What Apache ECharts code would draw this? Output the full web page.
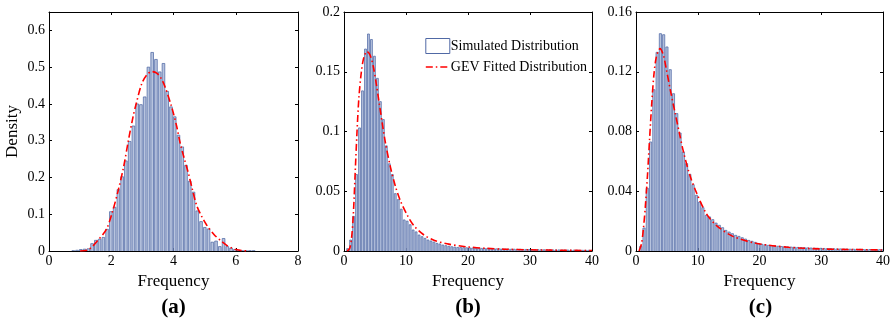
<!DOCTYPE html>
<html>
<head>
<meta charset="utf-8">
<script src="https://cdn.jsdelivr.net/npm/echarts@6/dist/echarts.min.js"></script>
<style>
  html, body { margin: 0; padding: 0; background: #fff; }
  #chart { width: 893px; height: 324px; }
</style>
</head>
<body>
<div id="chart"></div>
<script>
// histogram bins (left edge of first bin, bin width) and densities per panel
const binStartA = 0.725;
const binWidthA = 0.1207;
const densityA = [0.001, 0.002, 0.004, 0.005, 0.006, 0.02, 0.029, 0.032, 0.037, 0.059,
  0.107, 0.119, 0.167, 0.202, 0.245, 0.298, 0.34, 0.40, 0.398, 0.419,
  0.50, 0.54, 0.521, 0.487, 0.51, 0.434, 0.392, 0.365, 0.315, 0.283,
  0.233, 0.19, 0.16, 0.109, 0.08, 0.064, 0.06, 0.024, 0.027, 0.012,
  0.034, 0.012, 0.008, 0.004, 0.002, 0.001, 0.001, 0.001, 0.001];

const binStartB = 0.37;
const binWidthB = 0.48;
const densityB = [0.002, 0.0092, 0.029, 0.064, 0.103, 0.134, 0.169, 0.1816, 0.177, 0.163,
  0.1445, 0.125, 0.11, 0.088, 0.073, 0.064, 0.048, 0.043, 0.035, 0.026,
  0.025, 0.022, 0.0176, 0.016, 0.0134, 0.012, 0.0106, 0.0092, 0.0084, 0.0075,
  0.0064, 0.0059, 0.005, 0.0045, 0.004, 0.0036, 0.0033, 0.0030, 0.0029, 0.0028,
  0.0027, 0.0026, 0.0025, 0.0024, 0.0023, 0.0022, 0.0021, 0.0021, 0.002, 0.0019,
  0.0018, 0.0018, 0.0017, 0.0016, 0.0016, 0.0015, 0.0015, 0.0014, 0.0014, 0.0013,
  0.0013, 0.0012, 0.0012, 0.0011, 0.0011, 0.0011, 0.001, 0.001, 0.001, 0.0009,
  0.0009, 0.0009, 0.0008, 0.0008, 0.0008, 0.0007, 0.0007, 0.0007, 0.0006, 0.0006,
  0.0006, 0.0006, 0.0005];

const binStartC = 0.53;
const binWidthC = 0.53;
const densityC = [0.0031, 0.0154, 0.042, 0.073, 0.108, 0.133, 0.1455, 0.1448, 0.1366, 0.1214,
  0.1053, 0.092, 0.079, 0.0663, 0.0585, 0.0513, 0.0444, 0.0373, 0.0328, 0.029,
  0.0239, 0.0228, 0.021, 0.0187, 0.0172, 0.0156, 0.0138, 0.0127, 0.0116, 0.0105,
  0.0098, 0.0089, 0.008, 0.0071, 0.0065, 0.0058, 0.0049, 0.0045, 0.0042, 0.0038,
  0.0036, 0.0034, 0.0032, 0.003, 0.0029, 0.0027, 0.0026, 0.0025, 0.0024, 0.0023,
  0.0022, 0.0021, 0.002, 0.0019, 0.0018, 0.0018, 0.0017, 0.0016, 0.0016, 0.0015,
  0.0014, 0.0014, 0.0013, 0.0013, 0.0012, 0.0012, 0.0011, 0.0011, 0.001, 0.001,
  0.001, 0.0009, 0.0009, 0.0009, 0.0008];

// GEV fitted density, [frequency, density]
const gevA = [[1.0, 0], [1.26, 0.003], [1.58, 0.03], [1.85, 0.06], [2.05, 0.11], [2.23, 0.167],
  [2.4, 0.23], [2.55, 0.3], [2.7, 0.365], [2.8, 0.4], [2.98, 0.455], [3.15, 0.48], [3.3, 0.488],
  [3.46, 0.484], [3.6, 0.47], [3.73, 0.446], [3.94, 0.392], [4.1, 0.34], [4.21, 0.295],
  [4.35, 0.25], [4.48, 0.211], [4.6, 0.17], [4.74, 0.125], [4.9, 0.095], [5.07, 0.07],
  [5.3, 0.045], [5.49, 0.03], [5.7, 0.016], [5.87, 0.008], [6.0, 0.004], [6.2, 0.001], [6.4, 0]];
const gevB = [[0.5, 0], [0.9, 0.002], [1.2, 0.01], [1.5, 0.03], [1.8, 0.065], [2.1, 0.1],
  [2.4, 0.128], [2.8, 0.15], [3.2, 0.162], [3.7, 0.167], [4.2, 0.164], [4.7, 0.155], [5.2, 0.14],
  [5.7, 0.123], [6.2, 0.106], [6.7, 0.09], [7.5, 0.07], [8.3, 0.054], [9.1, 0.042], [10.2, 0.03],
  [11.3, 0.021], [12.8, 0.0138], [14.5, 0.009], [16.6, 0.006], [19.8, 0.0035], [23, 0.0022],
  [26, 0.0015], [30, 0.001], [35, 0.0006], [40, 0.0004]];
const gevC = [[0.5, 0], [0.9, 0.005], [1.2, 0.015], [1.5, 0.029], [1.85, 0.05], [2.2, 0.075],
  [2.57, 0.1], [2.9, 0.118], [3.3, 0.13], [3.9, 0.1355], [4.44, 0.131], [4.9, 0.122],
  [5.5, 0.109], [6.3, 0.093], [7.0, 0.0795], [7.65, 0.067], [8.7, 0.051], [9.8, 0.039],
  [11.4, 0.025], [13.0, 0.0172], [15.7, 0.0098], [19.4, 0.0052], [24.7, 0.0025], [30, 0.0014],
  [35, 0.001], [40, 0.0007]];

const xMax = [8, 40, 40];
const xInterval = [2, 10, 10];
const yMax = [0.65, 0.2, 0.16];
const yInterval = [0.1, 0.05, 0.04];
const panelLabels = ['(a)', '(b)', '(c)'];
const legendNames = ['Simulated Distribution', 'GEV Fitted Distribution'];

const FONT = "'Liberation Serif', 'DejaVu Serif', serif";
const BAR_FILL = '#b8c4de';
const BAR_EDGE = '#5069a5';
const GEV_DASH = [7, 3, 1.5, 3];

function bins(start, width, dens) {
  return dens.map((d, i) => [start + i * width, start + (i + 1) * width, d]);
}
const histData = [
  bins(binStartA, binWidthA, densityA),
  bins(binStartB, binWidthB, densityB),
  bins(binStartC, binWidthC, densityC)
];
const gevData = [gevA, gevB, gevC];

const grids = [
  { left: 49, top: 12, width: 249, height: 239 },
  { left: 344, top: 12, width: 248, height: 239 },
  { left: 636, top: 12, width: 249, height: 239 }
];

const axisLine = { show: true, onZero: false, lineStyle: { color: '#000', width: 1 } };
const axisTick = { show: true, inside: true, length: 3, lineStyle: { color: '#000' } };

// each bin: light face with a dark outline on left/top/right and a thin white gap
function renderBin(params, api) {
  const p0 = api.coord([api.value(0), api.value(2)]);
  const p1 = api.coord([api.value(1), 0]);
  const x0 = p0[0] + 0.4;
  const x1 = Math.max(p1[0] - 0.7, x0 + 0.5);
  const yTop = p0[1];
  const yBase = p1[1];
  return {
    type: 'group',
    children: [
      { type: 'rect', shape: { x: x0, y: yTop, width: x1 - x0, height: yBase - yTop },
        style: { fill: BAR_FILL } },
      { type: 'polyline', shape: { points: [[x0, yBase], [x0, yTop], [x1, yTop], [x1, yBase]] },
        style: { fill: null, stroke: BAR_EDGE, lineWidth: 0.75 } }
    ]
  };
}

const xAxis = [], yAxis = [], series = [];
grids.forEach((g, i) => {
  xAxis.push({
    type: 'value', gridIndex: i, min: 0, max: xMax[i], interval: xInterval[i], position: 'bottom',
    name: 'Frequency', nameLocation: 'middle', nameGap: 19,
    nameTextStyle: { fontFamily: FONT, fontSize: 17, color: '#000' },
    axisLine, axisTick, splitLine: { show: false },
    axisLabel: { fontFamily: FONT, fontSize: 14, color: '#000', margin: 3 }
  });
  xAxis.push({
    type: 'value', gridIndex: i, min: 0, max: xMax[i], interval: xInterval[i], position: 'top',
    axisLine, axisTick, splitLine: { show: false }, axisLabel: { show: false }
  });
  yAxis.push({
    type: 'value', gridIndex: i, min: 0, max: yMax[i], interval: yInterval[i], position: 'left',
    name: i === 0 ? 'Density' : '', nameLocation: 'middle', nameGap: 28,
    nameTextStyle: { fontFamily: FONT, fontSize: 17, color: '#000' },
    axisLine, axisTick, splitLine: { show: false },
    axisLabel: { fontFamily: FONT, fontSize: 14, color: '#000', margin: 4, showMaxLabel: i !== 0 }
  });
  yAxis.push({
    type: 'value', gridIndex: i, min: 0, max: yMax[i], interval: yInterval[i], position: 'right',
    axisLine, axisTick, splitLine: { show: false }, axisLabel: { show: false }
  });

  series.push({
    name: legendNames[0],
    type: 'custom',
    xAxisIndex: i * 2, yAxisIndex: i * 2,
    clip: true,
    data: histData[i],
    encode: { x: [0, 1], y: 2 },
    renderItem: renderBin,
    itemStyle: { color: '#fff', borderColor: BAR_EDGE, borderWidth: 1 },
    silent: true
  });
  series.push({
    name: legendNames[1],
    type: 'line',
    xAxisIndex: i * 2, yAxisIndex: i * 2,
    data: gevData[i],
    smooth: 0.3,
    symbol: 'none',
    clip: true,
    lineStyle: { color: '#ff0000', width: 1.6, type: GEV_DASH },
    itemStyle: { color: '#ff0000' },
    z: 5
  });
});

const chart = echarts.init(document.getElementById('chart'), null, { renderer: 'canvas' });
chart.setOption({
  animation: false,
  backgroundColor: '#fff',
  grid: grids,
  xAxis, yAxis, series,
  legend: {
    left: 420, top: 33, orient: 'vertical',
    itemWidth: 24, itemHeight: 15, itemGap: 6,
    textStyle: { fontFamily: FONT, fontSize: 14, color: '#000', padding: [0, 0, 0, -4] },
    data: [
      { name: legendNames[0], icon: 'rect',
        itemStyle: { color: '#fff', borderColor: BAR_EDGE, borderWidth: 1 } },
      { name: legendNames[1],
        itemStyle: { opacity: 0 },
        lineStyle: { color: '#ff0000', width: 1.6, type: GEV_DASH, opacity: 1 } }
    ],
    selectedMode: false
  },
  graphic: panelLabels.map((t, i) => ({
    type: 'text',
    x: grids[i].left + grids[i].width / 2,
    y: 308,
    style: {
      text: t, fontFamily: FONT, fontSize: 21, fontWeight: 'bold', fill: '#000',
      align: 'center', verticalAlign: 'middle'
    }
  }))
});
</script>
</body>
</html>
